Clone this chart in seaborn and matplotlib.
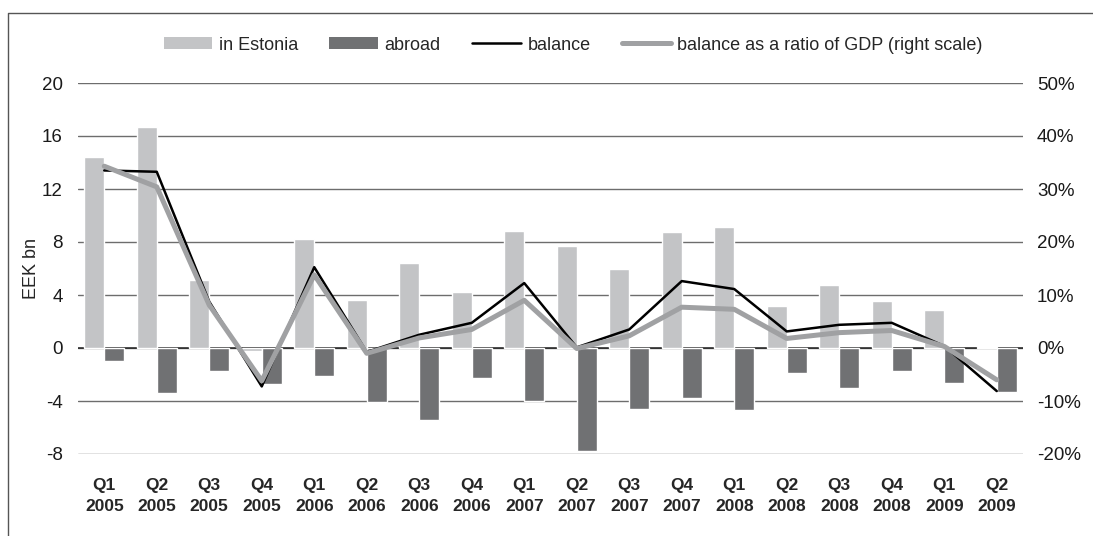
import numpy as np
import pandas as pd
import matplotlib
matplotlib.use("Agg")
import matplotlib.pyplot as plt
from matplotlib.lines import Line2D
from matplotlib.patches import Patch
from matplotlib.ticker import FuncFormatter
import seaborn as sns

# Quarterly figures, EEK bn (left scale) and % of GDP (right scale)
quarters = ["Q1\n2005", "Q2\n2005", "Q3\n2005", "Q4\n2005",
            "Q1\n2006", "Q2\n2006", "Q3\n2006", "Q4\n2006",
            "Q1\n2007", "Q2\n2007", "Q3\n2007", "Q4\n2007",
            "Q1\n2008", "Q2\n2008", "Q3\n2008", "Q4\n2008",
            "Q1\n2009", "Q2\n2009"]
in_estonia = [14.4, 16.7, 5.1, -0.2, 8.2, 3.6, 6.4, 4.2, 8.8, 7.7,
              6.0, 8.75, 9.1, 3.2, 4.75, 3.55, 2.9, 0.1]
abroad = [-1.0, -3.4, -1.7, -2.7, -2.1, -4.1, -5.4, -2.3, -4.0, -7.75,
          -4.6, -3.75, -4.7, -1.9, -3.05, -1.7, -2.65, -3.35]
balance = [13.4, 13.3, 3.5, -2.9, 6.1, -0.3, 1.0, 1.9, 4.9, 0.05,
           1.4, 5.05, 4.45, 1.25, 1.75, 1.9, 0.15, -3.25]
ratio_gdp = [34.3, 30.4, 8.1, -6.2, 13.8, -1.0, 1.9, 3.5, 9.0, -0.1,
             2.3, 7.7, 7.3, 1.8, 2.9, 3.3, 0.3, -6.0]

series_names = ["in Estonia", "abroad", "balance",
                "balance as a ratio of GDP (right scale)"]
left_ticks = [-8, -4, 0, 4, 8, 12, 16, 20]
right_ticks = [-20, -10, 0, 10, 20, 30, 40, 50]

LIGHT = "#c3c4c6"
DARK = "#707173"
LINE_GRAY = "#a0a1a3"

sns.set_theme(style="white")
plt.rcParams["font.family"] = ["Liberation Sans", "DejaVu Sans"]
plt.rcParams["axes.unicode_minus"] = False

bars = pd.DataFrame({
    "quarter": quarters * 2,
    "value": in_estonia + abroad,
    "series": [series_names[0]] * len(quarters) + [series_names[1]] * len(quarters),
})

fig = plt.figure(figsize=(10.93, 5.36), dpi=100)
ax = fig.add_axes([78 / 1093, 1 - 454 / 536, (1023 - 78) / 1093, (454 - 83) / 536])

ax.set_ylim(-8, 20)
ax.set_yticks(left_ticks)
for t in left_ticks:
    ax.axhline(t, color="#6d6d6d", lw=1.0, zorder=0)
ax.axhline(0, color="#222222", lw=1.1, zorder=0.5)

sns.barplot(data=bars, x="quarter", y="value", hue="series",
            palette=[LIGHT, DARK], width=0.76, saturation=1,
            legend=False, ax=ax, zorder=1)

xpos = np.arange(len(quarters))
sns.lineplot(x=xpos, y=balance, color="black", lw=1.8, ax=ax, zorder=3)

ax2 = ax.twinx()
ax2.set_ylim(-20, 50)
ax2.set_yticks(right_ticks)
ax2.yaxis.set_major_formatter(FuncFormatter(lambda v, p: f"{v:.0f}%"))
sns.lineplot(x=xpos, y=ratio_gdp, color=LINE_GRAY, lw=3.6, ax=ax2, zorder=4)

ax.set_xlim(-0.5, len(quarters) - 0.5)
ax.set_xlabel("")
ax.set_ylabel("EEK bn", fontsize=13, labelpad=1)
ax2.set_ylabel("")

ax.tick_params(axis="y", length=0, pad=11, labelsize=13.5, labelcolor="#1a1a1a")
ax2.tick_params(axis="y", length=0, pad=10, labelsize=13.5, labelcolor="#1a1a1a")
ax.tick_params(axis="x", length=0, pad=17)
for lbl in ax.get_xticklabels():
    lbl.set_fontweight("bold")
    lbl.set_fontsize(12.5)
    lbl.set_linespacing(1.55)

for a in (ax, ax2):
    for s in a.spines.values():
        s.set_visible(False)
    a.grid(False)

handles = [
    Patch(facecolor=LIGHT, edgecolor="none"),
    Patch(facecolor=DARK, edgecolor="none"),
    Line2D([], [], color="black", lw=1.8),
    Line2D([], [], color=LINE_GRAY, lw=3.6),
]
fig.legend(handles, series_names, loc="center", ncol=4,
           bbox_to_anchor=(573 / 1093, 1 - 45 / 536), frameon=False,
           fontsize=13, handlelength=2.7, handleheight=0.6,
           handletextpad=0.35, columnspacing=1.75)

# outer frame
fig.add_artist(Line2D([8 / 1093, 8 / 1093, 1.0], [0.0, 1 - 13 / 536, 1 - 13 / 536],
                      transform=fig.transFigure, color="#555555", lw=1.0))

fig.savefig("out.png", dpi=100)
